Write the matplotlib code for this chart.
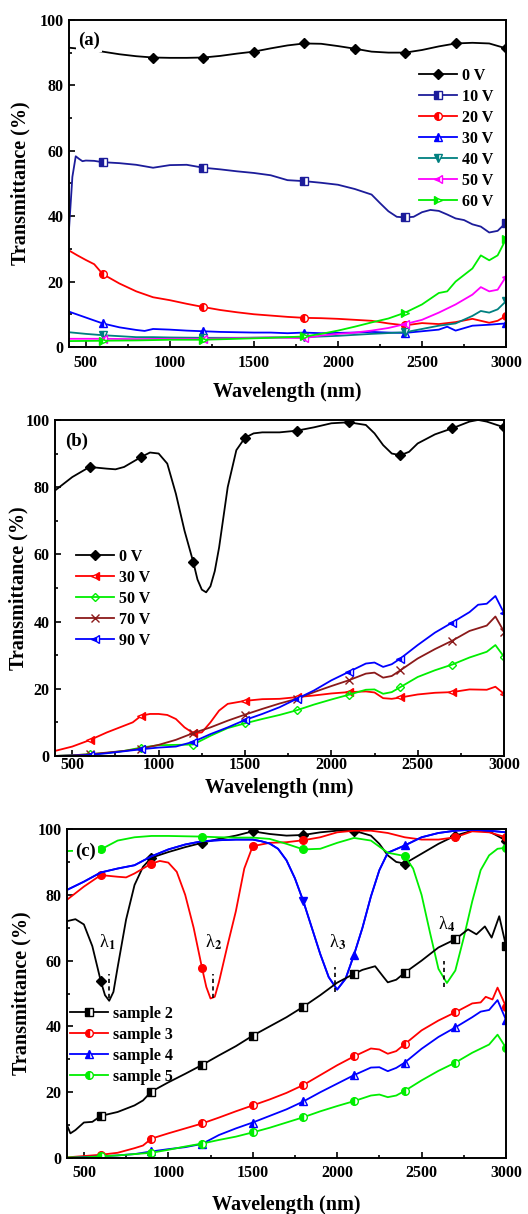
import numpy as np
import matplotlib.pyplot as plt
from matplotlib.lines import Line2D
from matplotlib.ticker import MultipleLocator

plt.rcParams['font.family'] = ['Liberation Serif', 'DejaVu Serif']
plt.rcParams['font.weight'] = 'bold'
plt.rcParams['mathtext.fontset'] = 'stix'

# ---------------- panel (a): voltage series ----------------
a0_x = [400, 500, 600, 700, 800, 900, 1000, 1100, 1200, 1300, 1400, 1500, 1600, 1700, 1800,
        1900, 2000, 2100, 2200, 2300, 2400, 2500, 2600, 2700, 2800, 2900, 3000]
a0_y = [91.5, 91.0, 90.3, 89.5, 88.9, 88.5, 88.4, 88.4, 88.5, 89.0, 89.7, 90.3, 91.3, 92.2, 92.8,
        92.7, 92.0, 91.2, 90.3, 90.0, 90.0, 90.8, 91.9, 92.8, 93.0, 92.8, 91.3]

a10_x = [400, 420, 440, 460, 480, 500, 550, 600, 700, 800, 900, 1000, 1100, 1200, 1300, 1400, 1500,
         1600, 1700, 1800, 1900, 2000, 2100, 2200, 2250, 2300, 2350, 2400, 2450, 2500, 2550, 2600,
         2650, 2700, 2750, 2800, 2850, 2900, 2950, 3000]
a10_y = [36.0, 52.0, 58.3, 57.5, 56.8, 57.0, 56.9, 56.5, 56.2, 55.7, 54.8, 55.6, 55.7, 54.8, 54.3, 53.7, 53.2,
         52.5, 51.0, 50.7, 50.2, 49.6, 48.3, 46.6, 44.0, 41.5, 39.8, 39.6, 39.8, 41.2, 41.9, 41.6,
         40.5, 39.3, 38.8, 37.5, 36.8, 35.0, 35.5, 38.0]

a20_x = [400, 450, 500, 550, 600, 700, 800, 900, 1000, 1100, 1200, 1300, 1400, 1500, 1600, 1700,
         1800, 1900, 2000, 2100, 2200, 2300, 2400, 2500, 2600, 2700, 2800, 2900, 2950, 3000]
a20_y = [29.5, 28.0, 26.6, 25.3, 22.3, 19.4, 17.0, 15.2, 14.3, 13.2, 12.2, 11.3, 10.6, 10.0, 9.6, 9.2,
         8.9, 8.8, 8.6, 8.3, 8.0, 7.2, 6.6, 7.3, 7.0, 7.6, 8.6, 7.4, 8.0, 9.5]

a30_x = [400, 500, 600, 700, 800, 850, 900, 1000, 1100, 1200, 1300, 1400, 1500, 1600, 1700, 1800,
         1900, 2000, 2100, 2200, 2300, 2400, 2500, 2600, 2650, 2700, 2800, 2900, 3000]
a30_y = [10.8, 9.0, 7.2, 6.0, 5.2, 4.9, 5.5, 5.3, 5.0, 4.8, 4.6, 4.5, 4.4, 4.4, 4.2, 4.4,
         4.2, 4.3, 4.4, 4.6, 4.4, 4.3, 4.8, 5.3, 6.2, 5.0, 6.5, 6.8, 7.2]

a40_x = [400, 500, 600, 700, 800, 900, 1000, 1200, 1400, 1600, 1800, 2000, 2200, 2400, 2500, 2600,
         2700, 2800, 2850, 2900, 2950, 3000]
a40_y = [4.5, 4.0, 3.6, 3.3, 3.0, 3.0, 2.9, 2.8, 2.8, 2.9, 3.0, 3.4, 4.0, 4.5, 5.5, 6.5,
         7.2, 9.5, 11.0, 10.5, 11.5, 14.0]

a50_x = [400, 600, 800, 1000, 1200, 1400, 1600, 1800, 1900, 2000, 2100, 2200, 2300, 2400, 2500,
         2600, 2700, 2800, 2850, 2900, 2950, 3000]
a50_y = [2.5, 2.5, 2.4, 2.5, 2.5, 2.7, 2.9, 2.7, 3.5, 4.0, 4.4, 5.0, 5.8, 7.0, 8.3,
         10.5, 13.0, 16.0, 18.3, 17.0, 17.5, 21.5]

a60_x = [400, 600, 800, 1000, 1200, 1400, 1600, 1800, 1900, 2000, 2100, 2200, 2300, 2400, 2500,
         2600, 2650, 2700, 2800, 2850, 2900, 2950, 3000]
a60_y = [1.8, 1.9, 2.0, 2.2, 2.2, 2.5, 2.8, 3.2, 4.0, 5.0, 6.2, 7.5, 8.7, 10.5, 13.0,
         16.5, 17.0, 20.0, 24.0, 28.0, 26.5, 28.0, 33.0]

# ---------------- panel (b) ----------------
b0_x = [400, 500, 600, 700, 750, 800, 900, 950, 1000, 1050, 1100, 1150, 1200, 1225, 1250, 1275,
        1300, 1325, 1350, 1400, 1450, 1500, 1550, 1600, 1700, 1800, 1900, 2000, 2100, 2200, 2250,
        2300, 2350, 2400, 2450, 2500, 2600, 2700, 2800, 2850, 2900, 3000]
b0_y = [79.0, 83.0, 86.0, 85.5, 85.3, 86.0, 89.0, 90.3, 90.0, 87.0, 78.0, 67.0, 57.8, 52.5, 49.5, 48.7,
        50.5, 55.0, 62.0, 80.0, 91.0, 94.7, 96.0, 96.3, 96.3, 96.8, 97.8, 99.0, 99.3, 98.5, 96.0,
        92.5, 90.0, 89.5, 90.5, 93.0, 95.7, 97.5, 99.5, 100.0, 99.5, 97.8]

b30_x = [400, 500, 600, 700, 800, 850, 900, 950, 1000, 1050, 1100, 1150, 1200, 1250, 1300, 1350,
         1400, 1500, 1600, 1700, 1800, 1900, 2000, 2100, 2200, 2250, 2300, 2350, 2400, 2500, 2600,
         2700, 2800, 2900, 2950, 3000]
b30_y = [1.5, 2.8, 4.7, 7.0, 9.0, 10.0, 12.0, 12.5, 12.5, 12.2, 11.0, 8.5, 6.8, 7.0, 10.0, 13.5,
         15.5, 16.4, 16.9, 17.0, 17.5, 18.0, 18.6, 19.0, 19.2, 18.9, 17.2, 17.0, 17.4, 18.3, 18.8,
         19.0, 19.8, 19.7, 20.6, 18.5]

b_x = [400, 500, 600, 700, 800, 900, 1000, 1100, 1200, 1300, 1400, 1500, 1600, 1700, 1800, 1900,
       2000, 2100, 2200, 2250, 2300, 2350, 2400, 2500, 2600, 2700, 2800, 2900, 2950, 3000]
b50_y = [0.0, 0.2, 0.5, 0.9, 1.5, 2.5, 3.2, 3.3, 3.4, 6.0, 8.3, 9.7, 11.0, 12.2, 13.6, 15.3,
         16.8, 18.2, 19.7, 19.8, 18.5, 19.0, 20.5, 23.5, 25.5, 27.2, 29.3, 31.0, 33.0, 29.5]
b70_y = [0.0, 0.2, 0.5, 1.0, 1.5, 2.2, 3.3, 4.8, 6.8, 8.5, 10.5, 12.3, 14.0, 15.6, 17.0, 19.0,
         20.8, 22.5, 24.5, 24.8, 23.3, 23.8, 25.5, 29.0, 31.8, 34.3, 37.2, 38.8, 41.5, 37.0]

b90_x = [400, 500, 600, 700, 800, 900, 1000, 1100, 1200, 1300, 1400, 1500, 1600, 1700, 1800, 1900,
         2000, 2100, 2200, 2250, 2300, 2350, 2400, 2500, 2600, 2700, 2800, 2850, 2900, 2950, 3000]
b90_y = [0.0, 0.1, 0.3, 0.8, 1.4, 2.0, 2.5, 2.8, 4.2, 6.5, 8.5, 10.7, 12.5, 14.5, 17.0, 19.5,
         22.5, 25.0, 27.5, 27.8, 26.5, 27.3, 29.0, 33.0, 36.7, 39.7, 42.8, 45.0, 45.3, 47.6, 42.5]

# ---------------- panel (c): samples ----------------
c2top_x = [400, 450, 500, 550, 600, 625, 650, 675, 700, 750, 800, 850, 900, 1000, 1100, 1200, 1300,
           1400, 1500, 1600, 1700, 1800, 1900, 2000, 2100, 2200, 2250, 2300, 2350, 2400, 2500, 2600,
           2700, 2800, 2900, 3000]
c2top_y = [72.0, 72.6, 71.0, 64.4, 53.8, 49.5, 47.8, 50.5, 58.0, 72.5, 83.0, 88.5, 91.3, 93.0, 94.5, 95.8, 97.0,
           98.0, 99.3, 98.5, 98.0, 98.2, 99.0, 99.5, 99.5, 98.0, 95.5, 92.0, 90.0, 89.5, 92.5, 95.5,
           98.0, 99.5, 99.3, 96.5]

c3top_x = [400, 500, 600, 700, 750, 800, 900, 950, 1000, 1050, 1100, 1150, 1200, 1225, 1250, 1275,
           1300, 1350, 1400, 1450, 1500, 1600, 1700, 1800, 1900, 2000, 2100, 2200, 2300, 2400, 2500,
           2600, 2700, 2800, 2900, 3000]
c3top_y = [78.5, 82.5, 86.0, 85.5, 85.3, 86.5, 89.5, 90.3, 89.8, 87.0, 80.0, 70.0, 57.7, 52.0, 48.5, 49.0,
           53.5, 64.5, 75.0, 88.0, 94.8, 95.8, 96.0, 96.6, 97.5, 99.0, 99.5, 99.5, 98.8, 97.5, 96.8,
           96.8, 97.5, 99.3, 99.0, 97.5]

c4top_x = [400, 500, 600, 700, 800, 900, 1000, 1100, 1200, 1300, 1400, 1500, 1550, 1600, 1650, 1700,
           1750, 1800, 1850, 1900, 1950, 2000, 2050, 2100, 2150, 2200, 2250, 2300, 2400, 2500, 2600,
           2700, 2800, 2900, 3000]
c4top_y = [81.5, 84.0, 86.8, 88.0, 89.0, 91.7, 93.8, 95.3, 96.3, 96.6, 96.8, 96.8, 96.3, 95.6, 94.0, 90.5,
           85.0, 78.0, 70.0, 62.0, 55.0, 51.2, 54.5, 61.8, 70.0, 79.5, 87.5, 92.8, 95.0, 97.5, 98.8,
           99.5, 99.8, 99.5, 99.0]

c5top_x = [400, 500, 600, 700, 800, 900, 1000, 1100, 1200, 1300, 1400, 1500, 1600, 1700, 1800, 1900,
           2000, 2100, 2200, 2300, 2400, 2450, 2500, 2550, 2600, 2650, 2700, 2750, 2800, 2850, 2900,
           2950, 3000]
c5top_y = [93.3, 93.5, 93.8, 96.5, 97.5, 97.9, 97.9, 97.8, 97.7, 97.5, 97.4, 97.4, 97.0, 95.5, 93.8, 94.0,
           95.8, 97.3, 96.5, 92.8, 91.8, 88.0, 80.0, 68.5, 57.5, 53.2, 57.0, 67.0, 78.0, 87.5, 92.0,
           94.0, 94.3]

c2_x = [400, 420, 450, 500, 550, 600, 700, 800, 850, 900, 1000, 1100, 1200, 1300, 1400, 1500, 1600,
        1700, 1800, 1900, 2000, 2100, 2150, 2225, 2275, 2300, 2350, 2400, 2500, 2600, 2700, 2775,
        2825, 2875, 2915, 2960, 3000]
c2_y = [10.0, 7.5, 8.5, 10.8, 11.0, 12.8, 14.0, 16.0, 17.5, 20.2, 23.0, 25.6, 28.3, 31.2, 34.0, 37.2, 40.0,
        42.8, 46.0, 49.5, 53.3, 56.0, 57.2, 58.3, 55.0, 53.4, 54.2, 56.3, 60.0, 64.0, 66.5, 69.5,
        68.0, 70.4, 67.0, 73.5, 64.5]

c3_x = [400, 500, 600, 700, 800, 850, 900, 1000, 1100, 1200, 1300, 1400, 1500, 1600, 1700, 1800,
        1900, 2000, 2100, 2200, 2250, 2300, 2350, 2400, 2500, 2600, 2700, 2800, 2850, 2880, 2920,
        2950, 3000]
c3_y = [0.2, 0.6, 1.0, 1.6, 3.0, 3.8, 5.9, 7.5, 9.0, 10.5, 12.3, 14.2, 16.0, 17.8, 19.8, 22.2,
        25.2, 28.2, 30.9, 33.3, 33.0, 31.7, 32.5, 34.6, 38.8, 41.8, 44.3, 47.0, 47.3, 49.0, 48.2,
        51.8, 46.0]

c4_x = [400, 500, 600, 700, 800, 900, 1000, 1100, 1200, 1300, 1400, 1500, 1600, 1700, 1800, 1900,
        2000, 2100, 2200, 2250, 2300, 2350, 2400, 2500, 2600, 2700, 2800, 2850, 2900, 2950, 3000]
c4_y = [0.0, 0.3, 0.5, 0.8, 1.2, 2.0, 2.7, 3.3, 4.3, 7.0, 9.0, 10.8, 12.8, 14.8, 17.2, 20.0,
        22.6, 25.2, 27.5, 27.6, 26.4, 27.4, 29.0, 33.2, 36.8, 39.7, 42.8, 44.5, 45.0, 48.0, 42.0]

c5_x = [400, 500, 600, 700, 800, 900, 1000, 1100, 1200, 1300, 1400, 1500, 1600, 1700, 1800, 1900,
        2000, 2100, 2200, 2250, 2300, 2350, 2400, 2500, 2600, 2700, 2800, 2900, 2950, 3000]
c5_y = [0.2, 0.2, 0.5, 0.8, 1.2, 1.6, 2.5, 3.5, 4.4, 5.5, 6.5, 7.8, 9.2, 10.8, 12.4, 14.2,
        15.8, 17.3, 19.0, 19.3, 18.5, 19.0, 20.4, 23.6, 26.5, 29.0, 32.0, 34.5, 37.5, 33.5]

# dip positions marked in (c)
dip_labels = ['1', '2', '3', '4']
dip_wl = [648, 1262, 1990, 2635]
dip_lo = [48.5, 48.5, 50.5, 52.0]
dip_hi = [56.0, 56.0, 58.0, 60.0]
dip_text_x = [640, 1270, 2005, 2650]
dip_text_y = [65.5, 65.5, 65.5, 71.0]

marks_a = [600, 1200, 1800, 2400, 3000]
marks_0a = [900, 1200, 1500, 1800, 2100, 2400, 2700, 3000]
marks_300 = [600, 900, 1200, 1500, 1800, 2100, 2400, 2700, 3000]

LW = 1.3
MS = 5.5


def draw(ax, x, y, color, marker, mark_at, fill='left', ms=MS, mew=1.0):
    x = np.asarray(x)
    y = np.asarray(y)
    ax.plot(x, y, color=color, lw=LW)
    sel = np.isin(x, mark_at)
    ax.plot(x[sel], y[sel], ls='none', marker=marker, ms=ms, color=color, mec=color, mew=mew,
            fillstyle=fill, markerfacecoloralt='white')


def handle(color, marker, fill='left', ms=MS):
    return Line2D([], [], color=color, lw=LW, marker=marker, ms=ms, mec=color,
                  fillstyle=fill, markerfacecoloralt='white')


def style_axes(ax, xpad, ypad, xlab_y, ylab_x, tag, tag_pos):
    ax.set_xlim(400, 3000)
    ax.set_ylim(0, 100)
    ax.xaxis.set_major_locator(MultipleLocator(500))
    ax.xaxis.set_minor_locator(MultipleLocator(250))
    ax.yaxis.set_major_locator(MultipleLocator(20))
    ax.yaxis.set_minor_locator(MultipleLocator(10))
    ax.tick_params(which='both', direction='in', top=False, right=False, width=1.2, labelsize=11.5)
    ax.tick_params(which='major', length=4.5)
    ax.tick_params(which='minor', length=2.5)
    ax.tick_params(axis='x', pad=xpad)
    ax.tick_params(axis='y', pad=ypad)
    for s in ax.spines.values():
        s.set_linewidth(1.4)
    ax.set_xlabel('Wavelength (nm)', fontsize=14.5, fontweight='bold')
    ax.set_ylabel('Transmittance (%)', fontsize=14.5, fontweight='bold')
    ax.xaxis.set_label_coords(0.5, xlab_y)
    ax.xaxis.label.set_verticalalignment('center')
    ax.yaxis.set_label_coords(ylab_x, 0.5)
    ax.yaxis.label.set_verticalalignment('center')
    ax.text(tag_pos[0], tag_pos[1], tag, transform=ax.transAxes, fontsize=13.5, fontweight='bold',
            va='center', ha='left', zorder=5,
            bbox=dict(facecolor='white', edgecolor='none', pad=1.5))


def add_legend(ax, hs, labels, anchor):
    ax.legend(hs, labels, loc='upper left', bbox_to_anchor=anchor, frameon=False, fontsize=11.5,
              borderpad=0, borderaxespad=0, handlelength=2.4, handletextpad=0.3, labelspacing=0.31)


fig = plt.figure(figsize=(5.28, 12.14), dpi=100)
ax_a = fig.add_axes([0.1307, 0.7142, 0.8277, 0.2694])
ax_b = fig.add_axes([0.1042, 0.3773, 0.8504, 0.2768])
ax_c = fig.add_axes([0.1269, 0.0461, 0.8314, 0.2710])

# (a)
draw(ax_a, a0_x, a0_y, 'black', 'D', marks_0a, fill='full', ms=5)
draw(ax_a, a10_x, a10_y, '#1c1c9a', 's', marks_a)
draw(ax_a, a20_x, a20_y, '#ff0000', 'o', marks_a)
draw(ax_a, a30_x, a30_y, '#0000ff', '^', marks_a)
draw(ax_a, a40_x, a40_y, '#008080', 'v', marks_a)
draw(ax_a, a50_x, a50_y, '#ff00ff', '<', marks_a)
draw(ax_a, a60_x, a60_y, '#00ee00', '>', marks_a)
style_axes(ax_a, 6, 4, -0.138, -0.112, '(a)', (0.021, 0.936))
hs = [handle('black', 'D', 'full', 5), handle('#1c1c9a', 's'), handle('#ff0000', 'o'),
      handle('#0000ff', '^'), handle('#008080', 'v'), handle('#ff00ff', '<'), handle('#00ee00', '>')]
add_legend(ax_a, hs, ['0 V', '10 V', '20 V', '30 V', '40 V', '50 V', '60 V'], (0.80, 0.853))

# (b)
draw(ax_b, b0_x, b0_y, 'black', 'D', marks_300, fill='full', ms=5)
draw(ax_b, b30_x, b30_y, '#ff0000', '<', marks_300, fill='right')
draw(ax_b, b_x, b50_y, '#00ee00', 'D', marks_300, fill='none', ms=4.5)
draw(ax_b, b_x, b70_y, '#8b1a1a', 'x', marks_300, fill='full', ms=6)
draw(ax_b, b90_x, b90_y, '#0000ff', '<', marks_300, fill='left')
style_axes(ax_b, 1, 4, -0.095, -0.082, '(b)', (0.022, 0.935))
hs = [handle('black', 'D', 'full', 5), handle('#ff0000', '<', 'right'), handle('#00ee00', 'D', 'none', 4.5),
      handle('#8b1a1a', 'x', 'full', 6), handle('#0000ff', '<', 'left')]
add_legend(ax_b, hs, ['0 V', '30 V', '50 V', '70 V', '90 V'], (0.047, 0.616))

# (c)
draw(ax_c, c2top_x, c2top_y, 'black', 'D', marks_300, fill='full', ms=5)
draw(ax_c, c3top_x, c3top_y, '#ff0000', 'o', [600, 900, 1200, 1500, 1800, 2700, 3000], fill='full')
draw(ax_c, c4top_x, c4top_y, '#0000ff', 'v', [1800], fill='full')
draw(ax_c, c4top_x, c4top_y, '#0000ff', '^', [2100, 2400], fill='full')
draw(ax_c, c5top_x, c5top_y, '#00ee00', 'o', [600, 1200, 1800, 2400, 3000], fill='full')
draw(ax_c, c2_x, c2_y, 'black', 's', marks_300)
draw(ax_c, c3_x, c3_y, '#ff0000', 'o', marks_300)
draw(ax_c, c4_x, c4_y, '#0000ff', '^', marks_300)
draw(ax_c, c5_x, c5_y, '#00ee00', 'o', marks_300)
ax_c.vlines(dip_wl, dip_lo, dip_hi, colors='black', linestyles=(0, (2.5, 2)), lw=1.2)
for lab, tx, ty in zip(dip_labels, dip_text_x, dip_text_y):
    ax_c.text(tx, ty, 'λ$_{' + lab + '}$', fontsize=13, fontweight='normal', ha='center', va='center')
style_axes(ax_c, 5, 4, -0.143, -0.103, '(c)', (0.018, 0.933))
hs = [handle('black', 's'), handle('#ff0000', 'o'), handle('#0000ff', '^'), handle('#00ee00', 'o')]
add_legend(ax_c, hs, ['sample 2', 'sample 3', 'sample 4', 'sample 5'], (0.007, 0.462))

fig.savefig('out.png', dpi=100)
